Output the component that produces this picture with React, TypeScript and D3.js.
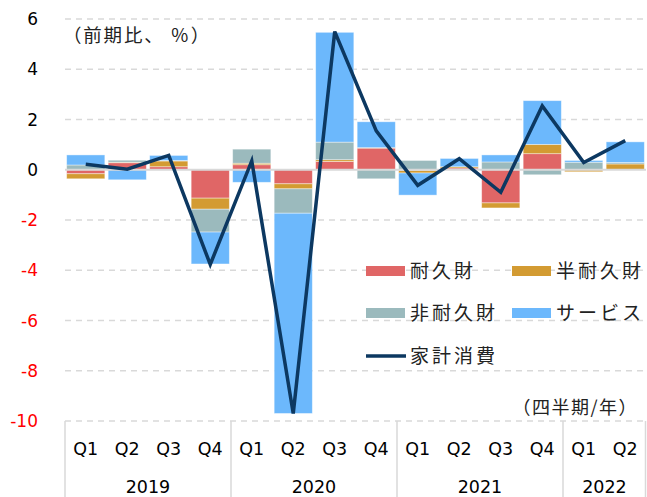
import * as d3 from 'd3';
import React, { useRef, useEffect } from 'react';

// quarters and years
const quarters = ['Q1', 'Q2', 'Q3', 'Q4', 'Q1', 'Q2', 'Q3', 'Q4', 'Q1', 'Q2', 'Q3', 'Q4', 'Q1', 'Q2'];
const years = [
  { year: '2019', from: 0, to: 3 },
  { year: '2020', from: 4, to: 7 },
  { year: '2021', from: 8, to: 11 },
  { year: '2022', from: 12, to: 13 },
];

// contributions (前期比、%)
const durable = [-0.16, 0.28, 0.12, -1.13, 0.2, -0.56, 0.33, 0.86, -0.03, 0.07, -1.32, 0.64, 0.0, 0.0];
const semiDurable = [-0.2, 0.02, 0.23, -0.44, 0.06, -0.2, 0.07, 0.02, -0.1, 0.05, -0.2, 0.37, -0.08, 0.23];
const nonDurable = [0.19, 0.08, 0.02, -0.91, 0.56, -0.97, 0.7, -0.36, 0.37, 0.0, 0.31, -0.2, 0.3, 0.06];
const services = [0.4, -0.4, 0.2, -1.27, -0.5, -7.97, 4.37, 1.03, -0.88, 0.33, 0.28, 1.74, 0.07, 0.82];
const household = [0.22, 0.02, 0.57, -3.77, 0.35, -9.7, 5.5, 1.55, -0.62, 0.44, -0.9, 2.54, 0.29, 1.16];

const yTicks = [6, 4, 2, 0, -2, -4, -6, -8, -10];

const seriesKeys = ['耐久財', '半耐久財', '非耐久財', 'サービス'];
const seriesColors = ['#e06666', '#d39b32', '#9bbabd', '#6cb8fc'];
const lineColor = '#0c3861';

const W = 647;
const H = 497;
const FONT = '"DejaVu Sans", "Noto Sans CJK JP", sans-serif';
const JFONT = '"Noto Sans CJK JP", "Noto Sans", sans-serif';

function Chart() {
  const ref = useRef<SVGSVGElement>(null);

  useEffect(() => {
    const svg = d3.select(ref.current);
    svg.selectAll('*').remove();

    const left = 65, right = 646, top = 19, bottom = 421;

    const x = d3.scaleBand<number>()
      .domain(d3.range(quarters.length))
      .range([left, right])
      .paddingInner(0.08)
      .paddingOuter(0.04);
    const y = d3.scaleLinear().domain([-10, 6]).range([bottom, top]);

    // table for the stack
    const table = quarters.map((q, i) => ({
      '耐久財': durable[i],
      '半耐久財': semiDurable[i],
      '非耐久財': nonDurable[i],
      'サービス': services[i],
    }));

    // gridlines
    svg.append('g')
      .selectAll('line')
      .data(yTicks.filter(t => t !== 0))
      .enter()
      .append('line')
      .attr('x1', left)
      .attr('x2', right)
      .attr('y1', d => y(d))
      .attr('y2', d => y(d))
      .attr('stroke', '#d9d9d9')
      .attr('stroke-width', 1.3)
      .attr('stroke-dasharray', '6,5');

    // y labels
    svg.append('g')
      .selectAll('text')
      .data(yTicks)
      .enter()
      .append('text')
      .attr('x', 38)
      .attr('y', d => y(d))
      .attr('dy', '0.36em')
      .attr('text-anchor', 'end')
      .style('font-family', FONT)
      .style('font-size', '17px')
      .style('fill', d => (d < 0 ? '#ff0000' : '#000'))
      .text(d => d);

    // stacked bars
    const stack = d3.stack<any>().keys(seriesKeys).offset(d3.stackOffsetDiverging);
    const layers = stack(table);

    svg.append('g')
      .selectAll('g')
      .data(layers)
      .enter()
      .append('g')
      .attr('fill', (d, i) => seriesColors[i])
      .selectAll('rect')
      .data(d => d)
      .enter()
      .append('rect')
      .attr('x', (d, i) => x(i)!)
      .attr('width', x.bandwidth())
      .attr('y', d => y(Math.max(d[0], d[1])))
      .attr('height', d => Math.abs(y(d[0]) - y(d[1])))
      .attr('stroke', '#ffffff')
      .attr('stroke-opacity', 0.5)
      .attr('stroke-width', 0.8);

    // zero line
    svg.append('line')
      .attr('x1', left)
      .attr('x2', right)
      .attr('y1', y(0))
      .attr('y2', y(0))
      .attr('stroke', '#d9d9d9')
      .attr('stroke-width', 2);

    // household consumption line
    const line = d3.line<number>()
      .x((d, i) => x(i)! + x.bandwidth() / 2)
      .y(d => y(d));

    svg.append('path')
      .datum(household)
      .attr('d', line)
      .attr('fill', 'none')
      .attr('stroke', lineColor)
      .attr('stroke-width', 3.5)
      .attr('stroke-linejoin', 'miter');

    // x axis: quarter labels, year labels, separators
    const step = x.step();
    const gap = (step - x.bandwidth()) / 2;
    const axisG = svg.append('g');
    axisG.selectAll('text.q')
      .data(quarters)
      .enter()
      .append('text')
      .attr('class', 'q')
      .attr('x', (d, i) => x(i)! + x.bandwidth() / 2)
      .attr('y', 455)
      .attr('text-anchor', 'middle')
      .style('font-family', FONT)
      .style('font-size', '17.5px')
      .style('fill', '#000')
      .text(d => d);

    axisG.selectAll('text.y')
      .data(years)
      .enter()
      .append('text')
      .attr('class', 'y')
      .attr('x', d => (x(d.from)! - gap + x(d.to)! + x.bandwidth() + gap) / 2)
      .attr('y', 493)
      .attr('text-anchor', 'middle')
      .style('font-family', FONT)
      .style('font-size', '17.5px')
      .style('fill', '#000')
      .text(d => d.year);

    const seps = [left, ...years.map(d => x(d.to)! + x.bandwidth() + gap)];
    axisG.selectAll('line')
      .data(seps)
      .enter()
      .append('line')
      .attr('x1', d => Math.min(d, right - 0.5))
      .attr('x2', d => Math.min(d, right - 0.5))
      .attr('y1', bottom)
      .attr('y2', H)
      .attr('stroke', '#d9d9d9')
      .attr('stroke-width', 1.5);

    // unit labels
    svg.append('text')
      .attr('x', 63)
      .attr('y', 42)
      .style('font-family', JFONT)
      .style('font-size', '18.5px')
      .style('letter-spacing', '1.8px')
      .style('fill', '#222')
      .text('（前期比、 ％）');

    svg.append('text')
      .attr('x', 638)
      .attr('y', 414)
      .attr('text-anchor', 'end')
      .style('font-family', JFONT)
      .style('font-size', '18px')
      .style('letter-spacing', '1.5px')
      .style('fill', '#222')
      .text('（四半期/年）');

    // legend
    const legendItems = [
      { label: seriesKeys[0], color: seriesColors[0], x: 366, y: 271, type: 'rect' },
      { label: seriesKeys[1], color: seriesColors[1], x: 512, y: 271, type: 'rect' },
      { label: seriesKeys[2], color: seriesColors[2], x: 366, y: 313, type: 'rect' },
      { label: seriesKeys[3], color: seriesColors[3], x: 512, y: 313, type: 'rect' },
      { label: '家計消費', color: lineColor, x: 366, y: 356, type: 'line' },
    ];
    const lg = svg.append('g')
      .selectAll('g')
      .data(legendItems)
      .enter()
      .append('g')
      .attr('transform', d => 'translate(' + d.x + ',' + d.y + ')');

    lg.filter(d => d.type === 'rect')
      .append('rect')
      .attr('x', 0)
      .attr('y', -5)
      .attr('width', 39)
      .attr('height', 10)
      .attr('fill', d => d.color);

    lg.filter(d => d.type === 'line')
      .append('line')
      .attr('x1', 0)
      .attr('x2', 40)
      .attr('y1', 0)
      .attr('y2', 0)
      .attr('stroke', d => d.color)
      .attr('stroke-width', 3.5);

    lg.append('text')
      .attr('x', 44)
      .attr('y', 0)
      .attr('dy', '0.36em')
      .style('font-family', JFONT)
      .style('font-size', '19px')
      .style('letter-spacing', '3px')
      .style('fill', '#222')
      .text(d => d.label);
  }, []);

  return <svg ref={ref} width={W} height={H} style={{ position: 'absolute', left: 0, top: 0, background: '#fff' }} />;
}

export default function App() {
  return <Chart />;
}
